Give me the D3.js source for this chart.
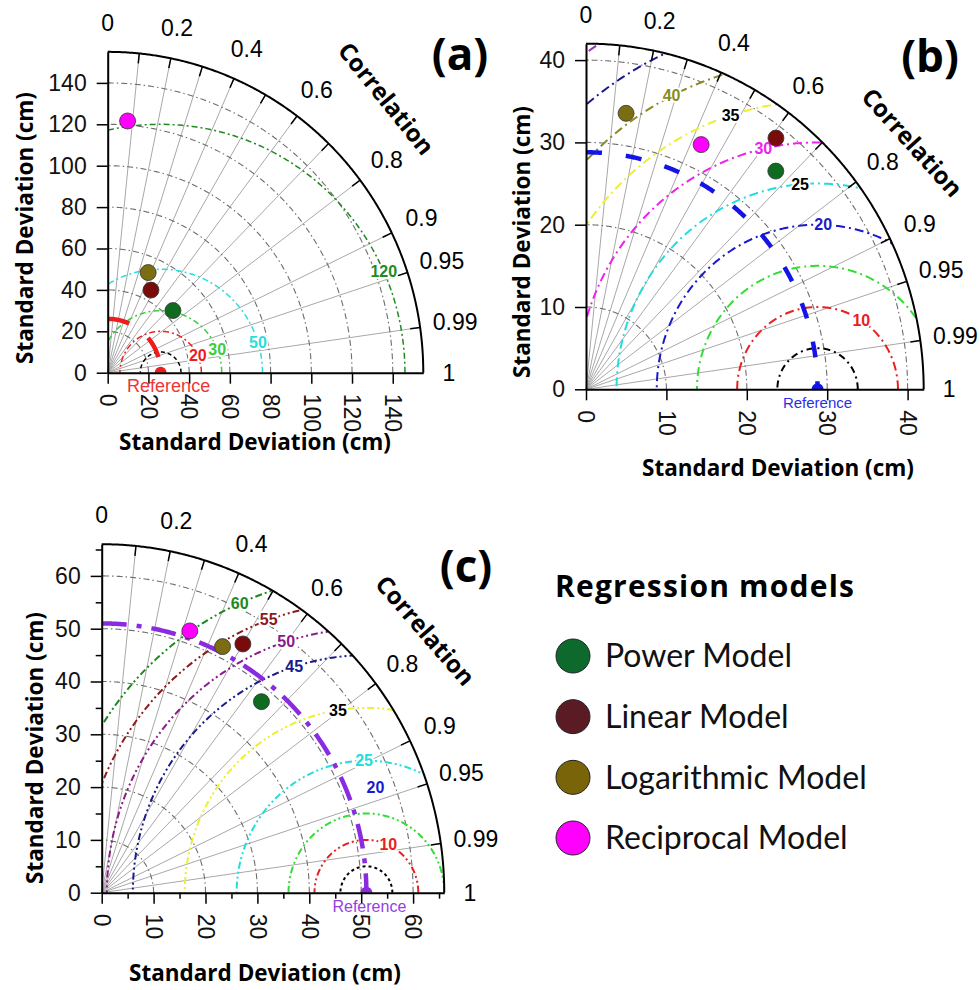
<!DOCTYPE html>
<html>
<head>
<meta charset="utf-8">
<script src="https://cdnjs.cloudflare.com/ajax/libs/d3/7.8.5/d3.min.js"></script>
<style>
  body { margin: 0; background: #fff; }
  svg { display: block; }
</style>
</head>
<body>
<svg id="chart" width="980" height="990"></svg>
<script>
// ---- data ----
const models = ["Power Model", "Linear Model", "Logarithmic Model", "Reciprocal Model"];
const pointColors = ["#0e6b20", "#7a0b0b", "#7b6d12", "#ff00ff"];
const legendColors = ["#0d6a2c", "#5a1b24", "#7a6409", "#ff00ff"];

const corrLabels = [0, 0.2, 0.4, 0.6, 0.8, 0.9, 0.95, 0.99, 1];
const corrLines = [0.1, 0.2, 0.3, 0.4, 0.5, 0.6, 0.7, 0.8, 0.9, 0.95, 0.99];

// panel (a)
const stdA = [43.9, 45.2, 52.3, 122.0];
const corA = [0.73, 0.47, 0.38, 0.08];
const refA = 26;
const ticksA = [0, 20, 40, 60, 80, 100, 120, 140];
const rmsA = [10, 20, 30, 50, 120];
const rmsColA = ["#000000", "#ee1c1c", "#3ccc3c", "#2adede", "#1f8a1f"];
const rmsLabA = [20, 30, 50, 120];
const rmsLabColA = ["#ee1c1c", "#3ccc3c", "#2adede", "#1f8a1f"];

// panel (b)
const stdB = [35.5, 38.6, 33.9, 33.0];
const corB = [0.665, 0.612, 0.147, 0.434];
const refB = 28.8;
const ticksB = [0, 10, 20, 30, 40];
const rmsB = [5, 10, 15, 20, 25, 30, 35, 40, 45, 50];
const rmsColB = ["#000000", "#e82020", "#33dd33", "#1a1acc", "#22dddd", "#ee22ee", "#eeee33", "#8b8b22", "#1a1a8b", "#a030c0"];
const rmsLabB = [10, 20, 25, 30, 35, 40];
const rmsLabColB = ["#e82020", "#1a1acc", "#000000", "#ee22ee", "#000000", "#8b8b22"];

// panel (c)
const stdC = [47.5, 54.4, 52.1, 52.4];
const corC = [0.648, 0.50, 0.447, 0.324];
const refC = 51;
const ticksC = [0, 10, 20, 30, 40, 50, 60];
const minorC = [5, 15, 25, 35, 45, 55, 65];
const rmsC = [5, 10, 15, 25, 35, 45, 50, 55, 60];
const rmsColC = ["#000000", "#e82020", "#33dd33", "#22dddd", "#eeee33", "#1a1a8b", "#8b1a8b", "#8b1a1a", "#1a8a1a"];
const rmsLabC = [10, 20, 25, 35, 45, 50, 55, 60];
const rmsLabColC = ["#e82020", "#1a1acc", "#22dddd", "#000000", "#1a1a8b", "#8b1a8b", "#8b1a1a", "#1a8a1a"];

// ---- layout ----
const panels = [
  { id: "a", std: stdA, cor: corA, ref: refA, ticks: ticksA, minor: [], rms: rmsA, rmsCol: rmsColA,
    labs: rmsLabA, labCol: rmsLabColA, labAng: [24, 22, 17, 24],
    ox: 107.7, oy: 372.7, kx: 2.036, ky: 2.07, max: 155,
    rmsDash: "6,3,2,3", rmsWidth: 1.5, blackDash: "4,3",
    refColor: "#ee1c1c", refDash: "22,24", refLabelSize: 18, refLabelDx: 8,
    title: "(a)", titleX: 460, titleY: 70,
    yTitle: [24, 228], xTitle: [255, 441], corrTitle: [387, 98, 51] },
  { id: "b", std: stdB, cor: corB, ref: refB, ticks: ticksB, minor: [], rms: rmsB, rmsCol: rmsColB,
    labs: rmsLabB, labCol: rmsLabColB, labAng: [57, 88, 95, 103, 108, 117],
    ox: 586, oy: 389.3, kx: 8.04, ky: 8.23, max: 42,
    rmsDash: "9,4,2,4", rmsWidth: 2, blackDash: "7,4,2,4",
    refColor: "#1414e6", refDash: "16,24", refLabelSize: 15, refLabelDx: 0,
    title: "(b)", titleX: 930, titleY: 72,
    yTitle: [521, 242], xTitle: [778, 467], corrTitle: [913, 142, 48] },
  { id: "c", std: stdC, cor: corC, ref: refC, ticks: ticksC, minor: minorC, rms: rmsC, rmsCol: rmsColC,
    labs: rmsLabC, labCol: rmsLabColC, labAng: [65, 85, 91, 99, 108, 108, 110, 114],
    ox: 101.7, oy: 892.7, kx: 5.19, ky: 5.28, max: 66,
    rmsDash: "7,3,2,3,2,3", rmsWidth: 2, blackDash: "3,3",
    refColor: "#8a2be2", refDash: "25,10,5,10", refLabelSize: 16, refLabelDx: 3,
    title: "(c)", titleX: 466, titleY: 582,
    yTitle: [34, 748], xTitle: [265, 972], corrTitle: [426, 630, 49] }
];

const svg = d3.select("#chart");
const tickFont = "'Liberation Sans', Arial, sans-serif";
const boldFont = "'Open Sans', 'DejaVu Sans', sans-serif";

function drawPanel(p) {
  const g = svg.append("g").attr("class", "panel-" + p.id);
  const x = d3.scaleLinear().domain([0, p.max]).range([p.ox, p.ox + p.max * p.kx]);
  const y = d3.scaleLinear().domain([0, p.max]).range([p.oy, p.oy - p.max * p.ky]);
  const pt = (r, a) => [x(r * Math.cos(a)), y(r * Math.sin(a))];
  const arcPts = (cx, R, a0, a1, n = 360) =>
    d3.range(n + 1).map(i => {
      const a = a0 + (a1 - a0) * i / n;
      return [x(cx + R * Math.cos(a)), y(R * Math.sin(a))];
    });
  const line = d3.line();

  // quarter disc clip
  const clipId = "clip-" + p.id;
  g.append("clipPath").attr("id", clipId)
    .append("path")
    .attr("d", line([[x(0), y(0)], ...arcPts(0, p.max, 0, Math.PI / 2)]) + "Z");

  // radial correlation lines
  g.append("g").selectAll("line").data(corrLines).enter().append("line")
    .attr("x1", x(0)).attr("y1", y(0))
    .attr("x2", d => pt(p.max, Math.acos(d))[0])
    .attr("y2", d => pt(p.max, Math.acos(d))[1])
    .attr("stroke", "#a8a8a8").attr("stroke-width", 1);

  // std dev grid arcs
  const grid = p.ticks.filter(t => t > 0);
  g.append("g").selectAll("path").data(grid).enter().append("path")
    .attr("d", d => line(arcPts(0, d, 0, Math.PI / 2)))
    .attr("fill", "none").attr("stroke", "#6e6e6e").attr("stroke-width", 1.1)
    .attr("stroke-dasharray", "6,3,1.5,3");

  // RMSD contours around the reference
  const cg = g.append("g").attr("clip-path", "url(#" + clipId + ")");
  cg.selectAll("path").data(p.rms).enter().append("path")
    .attr("d", d => line(arcPts(p.ref, d, 0, Math.PI)))
    .attr("fill", "none")
    .attr("stroke", (d, i) => p.rmsCol[i])
    .attr("stroke-width", p.rmsWidth)
    .attr("stroke-dasharray", (d, i) => i === 0 ? p.blackDash : p.rmsDash);

  // reference std arc (thick dashed)
  cg.append("path")
    .attr("d", line(arcPts(0, p.ref, Math.PI / 2, 0)))
    .attr("fill", "none").attr("stroke", p.refColor)
    .attr("stroke-width", 4.5).attr("stroke-dasharray", p.refDash);

  // RMSD labels
  g.append("g").selectAll("text").data(p.labs).enter().append("text")
    .attr("x", (d, i) => x(p.ref + d * Math.cos(p.labAng[i] * Math.PI / 180)))
    .attr("y", (d, i) => y(d * Math.sin(p.labAng[i] * Math.PI / 180)))
    .attr("text-anchor", "middle").attr("dominant-baseline", "central")
    .attr("font-family", tickFont).attr("font-weight", "bold").attr("font-size", 16)
    .attr("fill", (d, i) => p.labCol[i])
    .attr("stroke", "#fff").attr("stroke-width", 4).attr("paint-order", "stroke")
    .text(d => d);

  // outer arc
  g.append("path").attr("d", line(arcPts(0, p.max, 0, Math.PI / 2)))
    .attr("fill", "none").attr("stroke", "#000").attr("stroke-width", 2);

  // correlation ticks on the arc
  g.append("g").selectAll("line").data(corrLines).enter().append("line")
    .attr("x1", d => pt(p.max, Math.acos(d))[0])
    .attr("y1", d => pt(p.max, Math.acos(d))[1])
    .attr("x2", d => pt(p.max - 10 / p.kx, Math.acos(d))[0])
    .attr("y2", d => pt(p.max - 10 / p.ky, Math.acos(d))[1])
    .attr("stroke", "#000").attr("stroke-width", 1.5);

  // correlation labels
  g.append("g").selectAll("text").data(corrLabels).enter().append("text")
    .attr("font-family", tickFont).attr("font-size", 23)
    .attr("text-anchor", "middle").attr("dominant-baseline", "central")
    .text(d => d)
    .each(function (d) {
      const a = Math.acos(d);
      const w = this.getComputedTextLength();
      const off = 22 + 0.28 * w * Math.cos(a) + 7 * Math.sin(a);
      const [px, py] = pt(p.max, a);
      d3.select(this)
        .attr("x", px + off * Math.cos(a))
        .attr("y", py - off * Math.sin(a));
    });

  // axes
  const yAxis = d3.axisLeft(y).tickValues(p.ticks).tickSize(11).tickSizeOuter(0).tickPadding(10);
  const xAxis = d3.axisBottom(x).tickValues(p.ticks).tickSize(11).tickSizeOuter(0);
  const ya = g.append("g").attr("transform", `translate(${x(0)},0)`).call(yAxis);
  const xa = g.append("g").attr("transform", `translate(0,${y(0)})`).call(xAxis);
  [ya, xa].forEach(ax => {
    ax.select(".domain").attr("stroke-width", 2);
    ax.selectAll(".tick line").attr("stroke-width", 1.5);
    ax.selectAll("text").attr("font-family", tickFont).attr("font-size", 23).attr("fill", "#111");
  });
  xa.selectAll("text")
    .attr("transform", "rotate(90)")
    .attr("x", 21).attr("y", 0).attr("dy", "0.36em")
    .style("text-anchor", "start");
  if (p.minor.length) {
    g.append("g").attr("transform", `translate(${x(0)},0)`)
      .call(d3.axisLeft(y).tickValues(p.minor).tickSize(6).tickSizeOuter(0).tickFormat(""))
      .call(s => s.select(".domain").remove())
      .selectAll("line").attr("stroke-width", 1.5);
    g.append("g").attr("transform", `translate(0,${y(0)})`)
      .call(d3.axisBottom(x).tickValues(p.minor).tickSize(6).tickSizeOuter(0).tickFormat(""))
      .call(s => s.select(".domain").remove())
      .selectAll("line").attr("stroke-width", 1.5);
  }

  // reference point and label
  cg.append("circle").attr("cx", x(p.ref)).attr("cy", y(0)).attr("r", 6)
    .attr("fill", p.refColor);
  g.append("text")
    .attr("x", x(p.ref) + p.refLabelDx).attr("y", y(0) + 19)
    .attr("text-anchor", "middle")
    .attr("font-family", tickFont).attr("font-size", p.refLabelSize)
    .attr("fill", p.refColor).attr("opacity", 0.9)
    .text("Reference");

  // model points
  g.append("g").selectAll("circle").data(p.std).enter().append("circle")
    .attr("cx", (d, i) => x(d * p.cor[i]))
    .attr("cy", (d, i) => y(d * Math.sqrt(1 - p.cor[i] * p.cor[i])))
    .attr("r", 8)
    .attr("fill", (d, i) => pointColors[i])
    .attr("stroke", "#333").attr("stroke-width", 0.8);

  // titles
  g.append("text")
    .attr("transform", `translate(${p.yTitle[0]},${p.yTitle[1]}) rotate(-90)`)
    .attr("text-anchor", "middle").attr("dominant-baseline", "central")
    .attr("font-family", boldFont).attr("font-weight", 700).attr("font-size", 22.5)
    .text("Standard Deviation (cm)");
  g.append("text")
    .attr("x", p.xTitle[0]).attr("y", p.xTitle[1])
    .attr("text-anchor", "middle").attr("dominant-baseline", "central")
    .attr("font-family", boldFont).attr("font-weight", 700).attr("font-size", 22.5)
    .text("Standard Deviation (cm)");
  g.append("text")
    .attr("transform", `translate(${p.corrTitle[0]},${p.corrTitle[1]}) rotate(${p.corrTitle[2]})`)
    .attr("text-anchor", "middle").attr("dominant-baseline", "central")
    .attr("font-family", boldFont).attr("font-weight", 700).attr("font-size", 24)
    .text("Correlation");
  g.append("text")
    .attr("x", p.titleX).attr("y", p.titleY)
    .attr("text-anchor", "middle")
    .attr("font-family", boldFont).attr("font-weight", 700).attr("font-size", 44)
    .text(p.title);
}

panels.forEach(drawPanel);

// legend
const leg = svg.append("g").attr("class", "legend");
leg.append("text")
  .attr("x", 555).attr("y", 597)
  .attr("font-family", "'Open Sans', Lato, sans-serif").attr("font-weight", 700).attr("font-size", 30)
  .attr("letter-spacing", 1.2)
  .text("Regression models");
const legY = d3.scalePoint().domain(models).range([656, 838]);
const item = leg.selectAll("g.item").data(models).enter().append("g").attr("class", "item");
item.append("circle")
  .attr("cx", 573).attr("cy", d => legY(d)).attr("r", 17)
  .attr("fill", (d, i) => legendColors[i])
  .attr("stroke", "#222").attr("stroke-width", 1);
item.append("text")
  .attr("x", 605).attr("y", d => legY(d)).attr("dy", "0.35em")
  .attr("font-family", "Lato, 'Open Sans', sans-serif").attr("font-size", 32)
  .attr("fill", "#111")
  .text(d => d);
</script>
</body>
</html>
